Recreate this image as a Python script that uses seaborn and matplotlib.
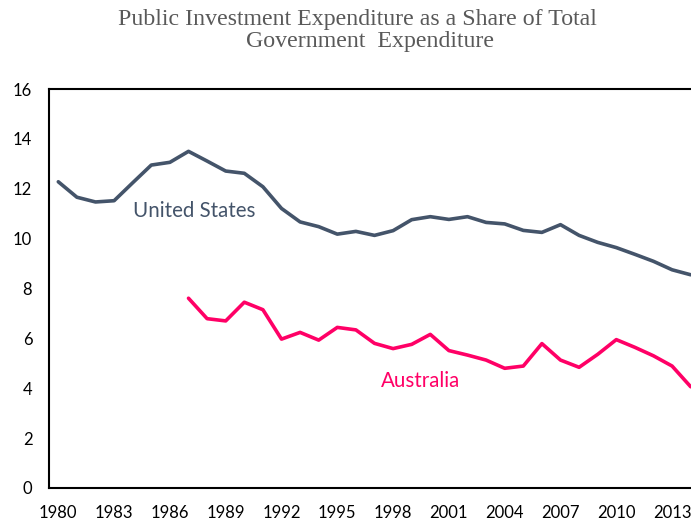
import numpy as np
import pandas as pd
import matplotlib
matplotlib.use("Agg")
import matplotlib.pyplot as plt
import seaborn as sns

# values (% of total government expenditure)
years = list(range(1980, 2015))
us_share = [12.28, 11.66, 11.47, 11.52, 12.24, 12.95, 13.06, 13.50, 13.11, 12.71,
            12.62, 12.08, 11.21, 10.67, 10.48, 10.18, 10.29, 10.13, 10.32, 10.76,
            10.88, 10.77, 10.88, 10.65, 10.59, 10.33, 10.25, 10.56, 10.13, 9.85,
            9.64, 9.37, 9.09, 8.75, 8.55]
au_years = list(range(1987, 2015))
au_share = [7.61, 6.79, 6.70, 7.45, 7.15, 5.97, 6.24, 5.93, 6.44, 6.34,
            5.80, 5.59, 5.76, 6.16, 5.51, 5.33, 5.13, 4.80, 4.89, 5.79,
            5.13, 4.84, 5.36, 5.95, 5.64, 5.30, 4.89, 4.06]
x_ticks = list(range(1980, 2014, 3))
y_ticks = [0, 2, 4, 6, 8, 10, 12, 14, 16]

us_color = "#44546A"
au_color = "#FF0066"

sns.set_theme(style="white")
plt.rcParams["font.family"] = ["Lato", "DejaVu Sans"]

df = pd.concat([
    pd.DataFrame({"year": years, "share": us_share, "country": "United States"}),
    pd.DataFrame({"year": au_years, "share": au_share, "country": "Australia"}),
])

W, H = 691, 522
fig = plt.figure(figsize=(W / 100, H / 100), dpi=100)
# axes run a little past the right edge of the picture, as in the original
ax = fig.add_axes([49 / W, 34 / H, 651 / W, 399 / H])

sns.lineplot(data=df, x="year", y="share", hue="country",
             palette={"United States": us_color, "Australia": au_color},
             linewidth=2.6, legend=False, ax=ax)

ax.set_xlim(1979.5, 2014.5)
ax.set_ylim(0, 16)
ax.set_xticks(x_ticks)
ax.set_yticks(y_ticks)
ax.set_xlabel("")
ax.set_ylabel("")
ax.tick_params(axis="both", length=0, labelsize=12, colors="black")
ax.tick_params(axis="x", pad=12.5)
ax.tick_params(axis="y", pad=12)
for side in ["left", "top", "bottom"]:
    ax.spines[side].set_color("black")
    ax.spines[side].set_linewidth(1.5)
ax.spines["right"].set_visible(False)

ax.text(1987.3, 11.1, "United States", color=us_color, fontsize=14.8,
        ha="center", va="center")
ax.text(1999.5, 4.28, "Australia", color=au_color, fontsize=14.8,
        ha="center", va="center")

fig.text(357.5 / W, 1 - 25 / H, "Public Investment Expenditure as a Share of Total",
         ha="center", va="baseline", fontsize=17.2, color="#595959",
         family="Liberation Serif")
fig.text(370 / W, 1 - 47.5 / H, "Government  Expenditure",
         ha="center", va="baseline", fontsize=17.2, color="#595959",
         family="Liberation Serif")

fig.savefig("out.png", dpi=100)
